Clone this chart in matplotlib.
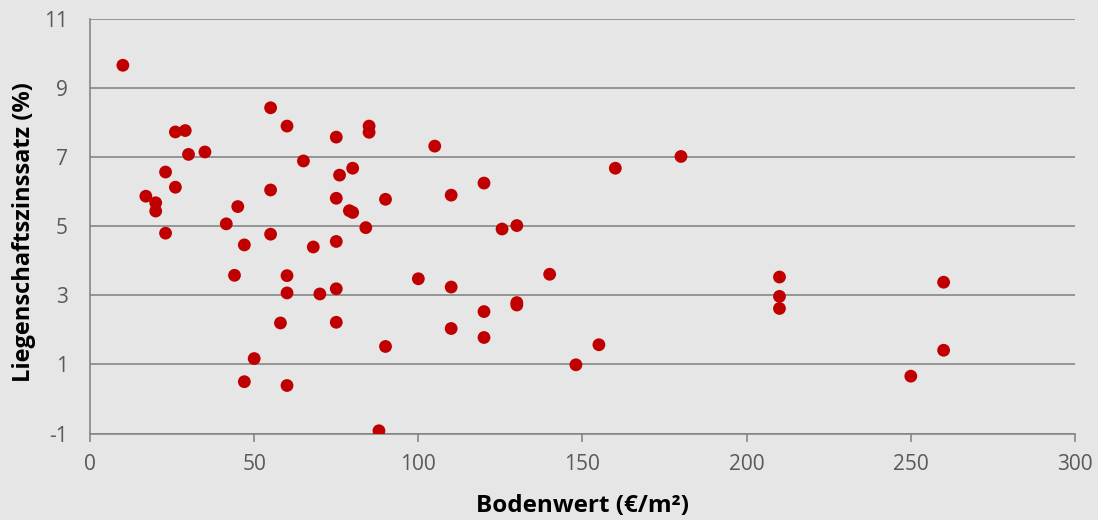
import matplotlib
matplotlib.use("Agg")
import matplotlib.pyplot as plt

# Bodenwert (€/m²)
bodenwert = [10, 55, 60, 26, 29, 75, 85, 85, 30, 35, 65, 23, 80, 76, 26, 55, 17, 75, 90,
             20, 20, 79, 80, 45, 41.5, 84, 23, 55, 47, 68, 75,
             44, 60, 60, 70, 75, 58, 75, 90, 50, 47, 60, 88,
             105, 180, 160, 120, 110, 125.5, 130, 100, 110, 140, 130, 130, 120, 110, 120,
             155, 148, 210, 210, 210, 260, 260, 250]
# Liegenschaftszinssatz (%)
zinssatz = [9.66, 8.43, 7.90, 7.73, 7.77, 7.58, 7.90, 7.72, 7.08, 7.15, 6.89, 6.57, 6.68, 6.48,
            6.13, 6.05, 5.87, 5.81, 5.78, 5.68, 5.44, 5.45, 5.40, 5.57, 5.07, 4.96, 4.80, 4.77,
            4.46, 4.40, 4.56,
            3.58, 3.57, 3.07, 3.04, 3.19, 2.20, 2.22, 1.52, 1.17, 0.50, 0.39, -0.92,
            7.32, 7.02, 6.68, 6.25, 5.90, 4.92, 5.02, 3.48, 3.24, 3.61, 2.79, 2.72, 2.53,
            2.04, 1.78, 1.57, 0.99, 3.53, 2.97, 2.62, 3.38, 1.41, 0.66]

x_ticks = [0, 50, 100, 150, 200, 250, 300]
y_ticks = [-1, 1, 3, 5, 7, 9, 11]

plt.rcParams['font.family'] = ['Open Sans', 'DejaVu Sans']

bg = '#E6E6E6'
gridc = '#868686'
fig = plt.figure(figsize=(10.98, 5.20), dpi=100, facecolor=bg)
ax = fig.add_axes([0.082, 0.1663, 0.897, 0.7972])
ax.set_facecolor(bg)

ax.scatter(bodenwert, zinssatz, s=85, color='#C00000', edgecolors='none', zorder=3)

ax.set_xlim(0, 300)
ax.set_ylim(-1, 11)
ax.set_xticks(x_ticks)
ax.set_yticks(y_ticks)
ax.set_yticklabels([str(v) for v in y_ticks])

ax.grid(axis='y', color=gridc, linewidth=1.2, zorder=1)
ax.grid(axis='x', visible=False)
ax.set_axisbelow(True)

for s in ['top', 'right']:
    ax.spines[s].set_visible(False)
for s in ['left', 'bottom']:
    ax.spines[s].set_color(gridc)
    ax.spines[s].set_linewidth(1.2)

ax.tick_params(axis='x', direction='out', length=6, width=1.2, color=gridc,
               labelsize=15, labelcolor='#595959', pad=9)
ax.tick_params(axis='y', length=0, labelsize=15, labelcolor='#595959', pad=16)

ax.set_xlabel('Bodenwert (€/m²)', fontsize=17.5, fontweight='bold', color='black')
ax.set_ylabel('Liegenschaftszinssatz (%)', fontsize=17, fontweight='bold', color='black')
ax.xaxis.set_label_coords(0.5, -0.145)
ax.yaxis.set_label_coords(-0.055, 0.487)

fig.savefig('out.png', dpi=100, facecolor=bg)
